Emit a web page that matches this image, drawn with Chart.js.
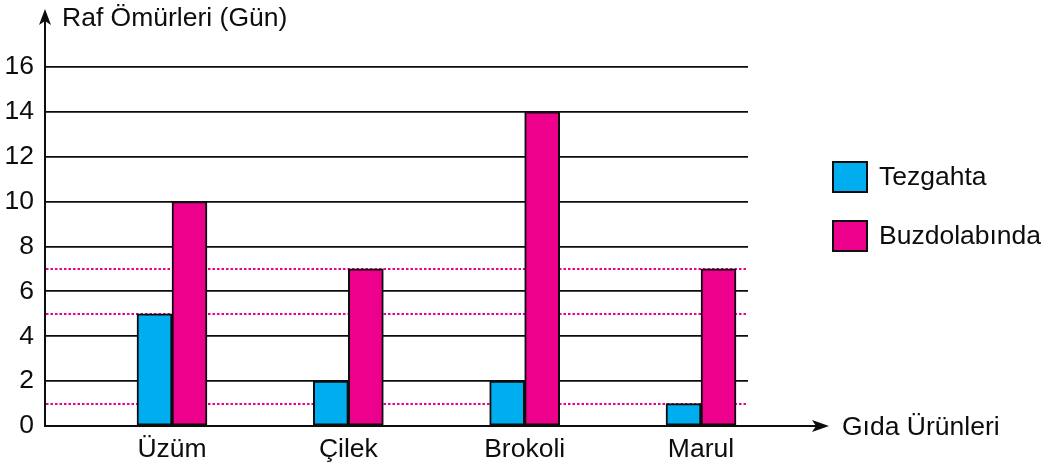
<!DOCTYPE html>
<html lang="tr">
<head>
<meta charset="utf-8">
<title>Raf Ömürleri</title>
<script src="https://cdn.jsdelivr.net/npm/chart.js@4/dist/chart.umd.min.js"></script>
<style>
  html, body { margin: 0; padding: 0; background: #ffffff; }
  #wrap { width: 1051px; height: 469px; position: relative; }
</style>
</head>
<body>
<div id="wrap"><canvas id="c" width="1051" height="469"></canvas></div>
<script>
// Gıda ürünleri ve raf ömürleri (gün)
const categories = ['Üzüm', 'Çilek', 'Brokoli', 'Marul'];
const tezgahta = [5, 2, 2, 1];
const buzdolabinda = [10, 7, 14, 7];
const yTicks = [0, 2, 4, 6, 8, 10, 12, 14, 16];
const dottedLevels = [1, 5, 7];
const seriesNames = ['Tezgahta', 'Buzdolabında'];
const yTitle = 'Raf Ömürleri (Gün)';
const xTitle = 'Gıda Ürünleri';

const FONT = '"Liberation Sans", Arial, Helvetica, sans-serif';
const FSIZE = 26.5;
const INK = '#0d0d0d';
const CYAN = '#00aeef';
const MAGENTA = '#ec008c';

const toPoints = arr => arr.map((v, i) => ({ x: i + 1, y: v }));

// Axes with arrowheads, dotted reference levels, titles and legend
const decor = {
  id: 'decor',
  beforeDatasetsDraw(chart) {
    const { ctx, chartArea: a, scales: { y } } = chart;
    ctx.save();
    ctx.strokeStyle = MAGENTA;
    ctx.lineWidth = 2;
    ctx.setLineDash([2.5, 2]);
    dottedLevels.forEach(v => {
      const py = Math.round(y.getPixelForValue(v));
      ctx.beginPath();
      ctx.moveTo(a.left + 1, py);
      ctx.lineTo(a.right, py);
      ctx.stroke();
    });
    ctx.restore();
  },
  afterDraw(chart) {
    const { ctx, chartArea: a, scales: { y } } = chart;
    const y0 = y.getPixelForValue(0);
    const ax = a.left;
    ctx.save();
    ctx.strokeStyle = INK;
    ctx.fillStyle = INK;
    ctx.lineWidth = 2;
    // y axis
    ctx.beginPath();
    ctx.moveTo(ax, y0 + 1);
    ctx.lineTo(ax, 18);
    ctx.stroke();
    ctx.beginPath();
    ctx.moveTo(ax, 9);
    ctx.lineTo(ax - 6, 25);
    ctx.lineTo(ax, 21);
    ctx.lineTo(ax + 6, 25);
    ctx.closePath();
    ctx.fill();
    // x axis
    ctx.beginPath();
    ctx.moveTo(ax - 1, y0);
    ctx.lineTo(820, y0);
    ctx.stroke();
    ctx.beginPath();
    ctx.moveTo(829, y0);
    ctx.lineTo(812, y0 - 6);
    ctx.lineTo(816, y0);
    ctx.lineTo(812, y0 + 6);
    ctx.closePath();
    ctx.fill();
    // titles
    ctx.font = FSIZE + 'px ' + FONT;
    ctx.textAlign = 'left';
    ctx.textBaseline = 'alphabetic';
    ctx.fillText(yTitle, 62, 26);
    ctx.fillText(xTitle, 842, 435);
    // legend
    const rows = [177, 236];
    chart.data.datasets.forEach((ds, i) => {
      const cy = rows[i];
      ctx.fillStyle = ds.backgroundColor;
      ctx.fillRect(833, cy - 15, 34, 30);
      ctx.lineWidth = 2;
      ctx.strokeStyle = INK;
      ctx.strokeRect(833, cy - 15, 34, 30);
      ctx.fillStyle = INK;
      ctx.textBaseline = 'middle';
      ctx.fillText(ds.label, 879, cy + 1);
    });
    ctx.restore();
  }
};

new Chart(document.getElementById('c'), {
  type: 'bar',
  data: {
    datasets: [
      { label: seriesNames[0], data: toPoints(tezgahta), backgroundColor: CYAN,
        borderColor: INK, borderWidth: 2, borderSkipped: false, barThickness: 35 },
      { label: seriesNames[1], data: toPoints(buzdolabinda), backgroundColor: MAGENTA,
        borderColor: INK, borderWidth: 2, borderSkipped: false, barThickness: 35 }
    ]
  },
  options: {
    responsive: false,
    animation: false,
    events: [],
    layout: { padding: { top: 67, right: 303, left: 0, bottom: 0 } },
    plugins: { legend: { display: false }, tooltip: { enabled: false } },
    scales: {
      x: {
        type: 'linear',
        offset: false,
        min: 0.2798,
        max: 4.2665,
        grid: { display: false, drawTicks: false, offset: false },
        border: { display: false },
        afterBuildTicks: s => { s.ticks = categories.map((_, i) => ({ value: i + 1 })); },
        afterFit: s => { s.height = 43; },
        ticks: {
          autoSkip: false,
          maxRotation: 0,
          padding: 8,
          color: INK,
          font: { family: FONT, size: FSIZE },
          callback: v => categories[v - 1]
        }
      },
      y: {
        min: 0,
        max: 16,
        afterBuildTicks: s => { s.ticks = yTicks.map(v => ({ value: v })); },
        afterFit: s => { s.width = 45; },
        grid: {
          drawTicks: false,
          color: ctx => (ctx.tick && ctx.tick.value === 0) ? 'rgba(0,0,0,0)' : INK,
          lineWidth: 1.8
        },
        border: { display: false },
        ticks: {
          padding: 11,
          color: INK,
          font: { family: FONT, size: FSIZE }
        }
      }
    }
  },
  plugins: [decor]
});
</script>
</body>
</html>
